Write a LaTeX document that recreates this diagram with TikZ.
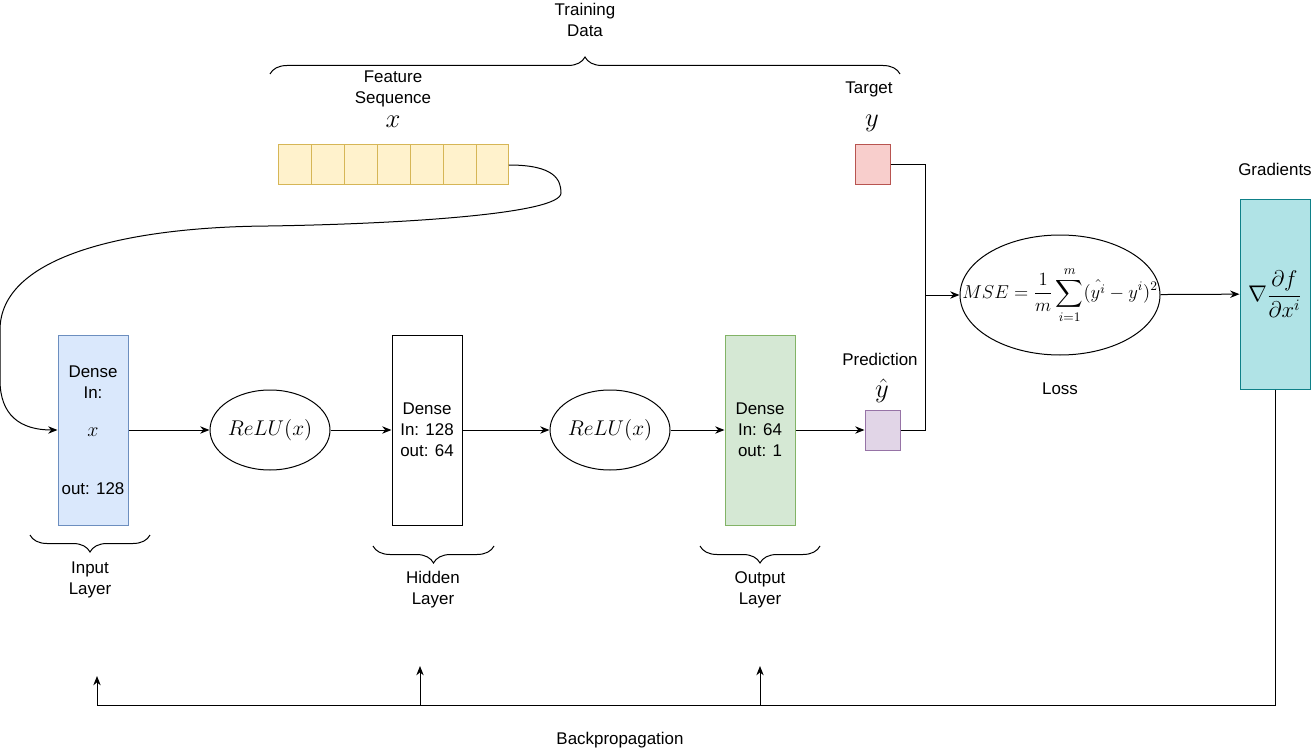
\RequirePackage{fix-cm}
\documentclass[tikz,border=0pt]{standalone}
\usepackage{amsmath}
\usepackage{fontspec}
\setmainfont{Liberation Sans}
\usepackage{xcolor}
\usepackage{tikz}
\usetikzlibrary{shapes,arrows.meta,positioning,calc,decorations.pathreplacing}

\definecolor{seqfill}{HTML}{FFF2CC}
\definecolor{seqline}{HTML}{D6B656}
\definecolor{tgtfill}{HTML}{F8CECC}
\definecolor{tgtline}{HTML}{B85450}
\definecolor{prdfill}{HTML}{E1D5E7}
\definecolor{prdline}{HTML}{9673A6}
\definecolor{infill}{HTML}{DAE8FC}
\definecolor{inline}{HTML}{6C8EBF}
\definecolor{outfill}{HTML}{D5E8D4}
\definecolor{outgreen}{HTML}{82B366}
\definecolor{gradfill}{HTML}{B0E3E6}
\definecolor{gradline}{HTML}{0E8088}

\begin{document}
\begin{tikzpicture}[x=0.75pt, y=-0.75pt, line width=0.75pt,
    font=\fontsize{12.7}{15.75}\selectfont,
    >={Stealth[length=7pt, width=5.5pt]},
    lbox/.style={rectangle, draw, minimum width=52.5pt, minimum height=142.5pt, align=center, inner sep=0pt},
    cell/.style={rectangle, draw=seqline, fill=seqfill, minimum width=24.64pt, minimum height=30pt, inner sep=0pt, outer sep=0pt},
    dbox/.style={rectangle, minimum width=26.25pt, minimum height=30pt, inner sep=0pt},
    act/.style={ellipse, draw, minimum width=90pt, minimum height=60pt, inner sep=0pt, font=\fontsize{16}{18}\selectfont},
    lbl/.style={align=center, inner sep=0pt},
    mlbl/.style={inner sep=0pt, font=\fontsize{20}{22}\selectfont},
    brc/.style={decorate, decoration={brace, amplitude=12.75pt}}]

    \useasboundingbox (0,0) rectangle (1313,756);

    % training data
    \node[lbl] (train) at (585,20) {Training\\Data};
    \draw[brc] (270,74) -- (900,74);

    \node[cell] (c1) at (295.4,165) {};
    \node[cell, right=0pt of c1] (c2) {};
    \node[cell, right=0pt of c2] (c3) {};
    \node[cell, right=0pt of c3] (c4) {};
    \node[cell, right=0pt of c4] (c5) {};
    \node[cell, right=0pt of c5] (c6) {};
    \node[cell, right=0pt of c6] (c7) {};
    \node[lbl] (seqlbl) at (393,89) {Feature\\Sequence};
    \node[mlbl] (seqx) at (393,122) {$x$};

    \node[dbox, draw=tgtline, fill=tgtfill] (target) at (872.5,165) {};
    \node[lbl] (tgtlbl) at (869,89) {Target};
    \node[mlbl] (tgty) at (872,123) {$y$};

    % network
    \node[lbox, draw=inline, fill=infill] (inp) at (93,430)
        {Dense\\In:\\[12.75pt]{\fontsize{15}{15.75}\selectfont$x$}\\[27.75pt]out: 128};
    \node[act] (relu1) at (270,430) {$ReLU(x)$};
    \node[lbox] (hid) at (427,430) {Dense\\In: 128\\out: 64};
    \node[act] (relu2) at (610,430) {$ReLU(x)$};
    \node[lbox, draw=outgreen, fill=outfill] (outl) at (760,430) {Dense\\In: 64\\out: 1};

    \node[dbox, draw=prdline, fill=prdfill] (pred) at (882.5,430) {};
    \node[lbl] (prdlbl) at (880,359) {Prediction};
    \node[mlbl] (prdy) at (882,391) {$\hat{y}$};

    \node[lbl] (inlbl) at (90,580) {Input\\Layer};
    \node[lbl] (hidlbl) at (433,590) {Hidden\\Layer};
    \node[lbl] (outlbl) at (760,590) {Output\\Layer};
    \draw[brc] (150,535) -- (30,535);
    \draw[brc] (494,546) -- (373,546);
    \draw[brc] (820,546) -- (700,546);

    % loss and gradients
    \node[ellipse, draw, minimum width=150pt, minimum height=90pt, inner sep=0pt] (mse) at (1060,295) {};
    \node[inner sep=0pt, font=\fontsize{14}{17}\selectfont] (msetxt) at (mse)
        {$\displaystyle MSE=\frac{1}{m}\sum_{i=1}^{m}(\hat{y^i}-y^i)^2$};
    \node[lbl] (losslbl) at (1060,389) {Loss};
    \node[lbox, draw=gradline, fill=gradfill, font=\fontsize{17}{19}\selectfont] (grad) at (1275,294)
        {$\displaystyle \nabla\frac{\partial f}{\partial x^i}$};
    \node[lbl] (gradlbl) at (1275,169) {Gradients};
    \node[lbl] (bplbl) at (620,740) {Backpropagation};

    \coordinate (join) at (925,295);
    \coordinate (bpbase) at (97,705);
    \coordinate (bpin) at (97,676);
    \coordinate (bphid) at (420,666);
    \coordinate (bpout) at (760,666);

    \draw[->] (c7.east) .. controls (555,165) and (561,180) .. (561,193)
        .. controls (561,214) and (400,224) .. (268,226)
        .. controls (130,227) and (0,255) .. (0,330) -- (0,380)
        .. controls (0,415) and (20,430) .. (inp.west);
    \draw[->] (inp) -- (relu1);
    \draw[->] (relu1) -- (hid);
    \draw[->] (hid) -- (relu2);
    \draw[->] (relu2) -- (outl);
    \draw[->] (outl) -- (pred);
    \draw (target.east) -| (join);
    \draw (pred.east) -| (join);
    \draw[->] (join) -- (mse.west);
    \draw[->] (mse) -- (grad);

    \draw (grad.south) |- (bpbase);
    \draw[->] (bpbase) -- (bpin);
    \draw[->] (bphid |- bpbase) -- (bphid);
    \draw[->] (bpout |- bpbase) -- (bpout);

\end{tikzpicture}
\end{document}
